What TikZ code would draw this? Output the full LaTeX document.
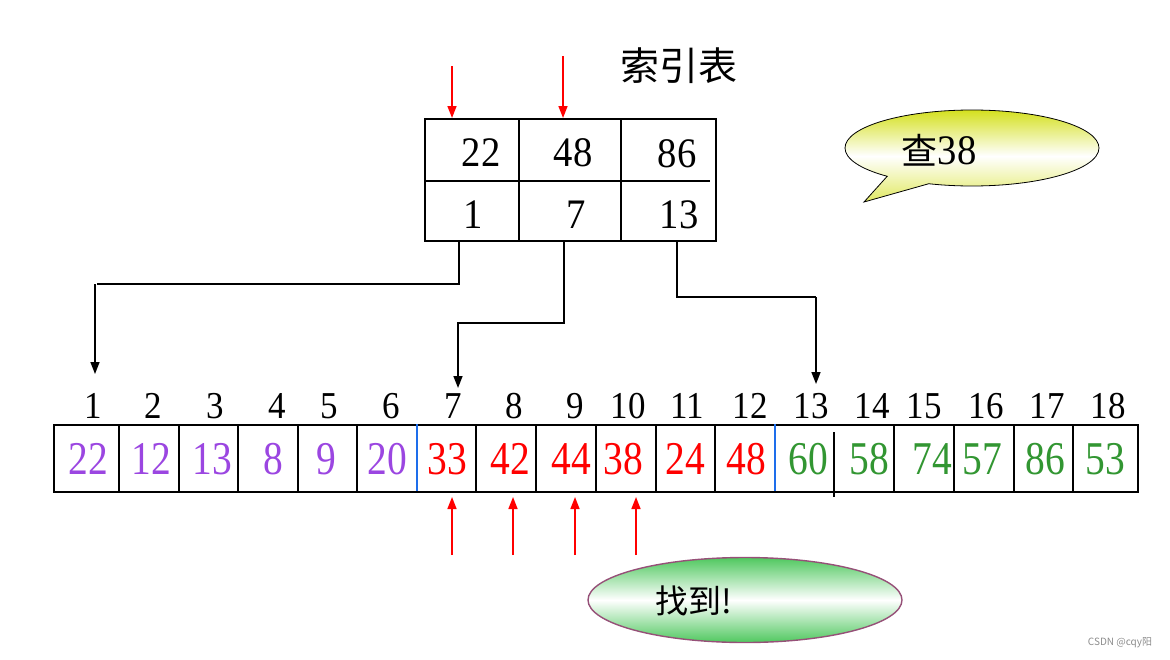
\documentclass[tikz,border=0pt]{standalone}
\usepackage{fontspec}
\setmainfont{Liberation Serif}
\newfontfamily\cjk{Noto Sans CJK SC}
\newfontfamily\numA[FakeStretch=0.84]{Liberation Serif}
\newfontfamily\numB[FakeStretch=0.92]{Liberation Serif}
\usetikzlibrary{arrows.meta,shapes.callouts,shapes.geometric}
\definecolor{vpur}{RGB}{155,70,225}
\definecolor{vgrn}{RGB}{50,150,50}
\definecolor{vblu}{RGB}{30,110,235}
\definecolor{yg}{RGB}{212,224,30}
\definecolor{lgrn}{RGB}{80,200,95}
\definecolor{epur}{RGB}{150,80,120}
\tikzset{
  frame/.style={line width=2pt,draw=black},
  conn/.style={line width=1.6pt,draw=black},
  arr/.style={line width=1.6pt,draw=black,-{Triangle[length=12pt,width=9pt]}},
  rarr/.style={line width=1.6pt,draw=red,-{Triangle[length=12pt,width=9pt]}},
  tnum/.style={font=\numB\fontsize{42}{44}\selectfont,inner sep=0pt},
  inum/.style={font=\numB\fontsize{38}{40}\selectfont,inner sep=0pt},
  anum/.style={font=\numA\fontsize{47}{49}\selectfont,inner sep=0pt},
  cell/.style={inner sep=0pt,minimum width=95pt,minimum height=60pt},
}
\begin{document}
\begin{tikzpicture}[x=1pt,y=-1pt]
\useasboundingbox (0,0) rectangle (1170,659);
% title
\node[font=\cjk\fontsize{39}{42}\selectfont,inner sep=0pt] (title) at (679,66) {索引表};
% index table
\node[frame,inner sep=0pt,minimum width=291pt,minimum height=122pt,anchor=north west] (tbl) at (424,118) {};
\draw[frame] (519,118) -- (519,240);
\draw[frame] (621,118) -- (621,240);
\draw[frame] (424,181) -- (710,181);
\node[cell] (b1) at (471.5,210.5) {};
\node[cell] (b2) at (570,210.5) {};
\node[cell] (b3) at (668,210.5) {};
\node[tnum] (k1) at (481,153) {22};
\node[tnum] (k2) at (573,153) {48};
\node[tnum] (k3) at (677,154) {86};
\node[tnum] (s1) at (473,215) {1};
\node[tnum] (s2) at (576,215) {7};
\node[tnum] (s3) at (679,215) {13};
% red arrows to table
\coordinate (ra1) at (452,66);
\coordinate (ra2) at (563,56);
\draw[rarr] (ra1) -- (ra1 |- tbl.north);
\draw[rarr] (ra2) -- (ra2 |- tbl.north);
% callout
\node[ellipse callout,draw=black,line width=0.8pt,minimum width=254pt,minimum height=76pt,
  callout absolute pointer={(864,202)},callout pointer arc=22,
  top color=yg,bottom color=yg!70,middle color=white,shading angle=0] (q) at (972,148) {};
\node[inner sep=0pt] (qt) at (939,150) {{\cjk\fontsize{36}{38}\selectfont 查}{\numB\fontsize{42}{44}\selectfont 38}};
% array
\node[frame,inner sep=0pt,minimum width=1084pt,minimum height=67pt,anchor=north west] (arr) at (53,424) {};
\foreach \x in {119,179,238,298,357,476,536,596,656,715,894,954,1014,1073}
  \draw[frame] (\x,424) -- (\x,491);
\draw[frame] (834,432) -- (834,497);
\draw[line width=1.6pt,vblu] (417,424) -- (417,491);
\draw[line width=1.6pt,vblu] (775,424) -- (775,491);
% labels
\foreach \i/\x/\t in {1/93/1,2/153/2,3/215/3,4/277/4,5/329/5,6/391/6,7/453/7,8/514/8,9/575/9,10/628/10,11/687/11,12/750/12,13/811/13,14/872/14,15/924/15,16/986/16,17/1047/17,18/1108/18}
  \node[inum] (l\i) at (\x,406) {\t};
% values
\foreach \i/\x/\t/\c in {1/88/22/vpur,2/151/12/vpur,3/212/13/vpur,4/273/8/vpur,5/326/9/vpur,6/387/20/vpur,
  7/447/33/red,8/510/42/red,9/571/44/red,10/623/38/red,11/685/24/red,12/746/48/red,
  13/808/60/vgrn,14/869/58/vgrn,15/932/74/vgrn,16/982/57/vgrn,17/1045/86/vgrn,18/1105/53/vgrn}
  \node[anum,text=\c] (v\i) at (\x,459) {\t};
% connectors
\coordinate (h1) at (97,284);
\coordinate (e1) at (95,374);
\coordinate (h2) at (457,323);
\coordinate (e2) at (458,388);
\coordinate (h3) at (816,297);
\coordinate (e3) at (816,384);
\draw[conn] ([xshift=-12.5pt]b1.south) |- (h1);
\draw[arr] (h1 -| e1) -- (e1);
\draw[conn] ([xshift=-6pt]b2.south) |- (h2);
\draw[arr] (h2 -| e2) -- (e2);
\draw[conn] ([xshift=9pt]b3.south) |- (h3);
\draw[arr] (h3) -- (e3);
% red arrows from below
\foreach \i/\x in {7/452,8/513,9/575,10/636}
  \draw[rarr] (\x,555) -- (\x,497);
% found ellipse
\node[ellipse,draw=epur,line width=1.4pt,minimum width=314pt,minimum height=85pt,
  top color=lgrn,bottom color=lgrn,middle color=white] (f) at (745,600) {};
\node[font=\cjk\fontsize{33}{35}\selectfont,inner sep=0pt] (ft) at (694,601) {找到!};
% watermark
\node[font=\cjk\fontsize{10}{12}\selectfont,text=black!45,inner sep=0pt] (wm) at (1120,643) {CSDN @cqy阳};
\end{tikzpicture}
\end{document}
